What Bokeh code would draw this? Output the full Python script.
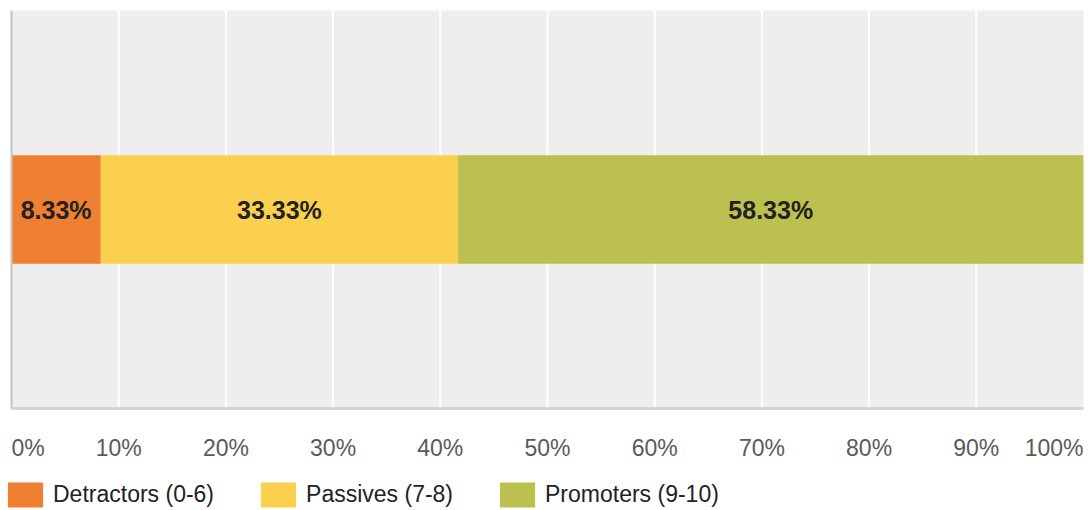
from bokeh.plotting import figure
from bokeh.models import Range1d, Legend, LegendItem, ColumnDataSource
from bokeh.core.properties import value
from bokeh.embed import file_html
from bokeh.resources import INLINE

categories = ["Detractors (0-6)", "Passives (7-8)", "Promoters (9-10)"]
values = [8.33, 33.33, 58.33]
colors = ["#ef7f31", "#fbd04f", "#bcc04f"]
tick_values = [0, 10, 20, 30, 40, 50, 60, 70, 80, 90, 100]
tick_labels = ["0%", "10%", "20%", "30%", "40%", "50%", "60%", "70%", "80%", "90%", "100%"]

FONT = "Liberation Sans"
W, H = 1088, 510
# chart area in screen pixels (left, right, top, bottom)
AL, AR, AT, AB = 11, 1083, 10, 408
xs = (AR - AL) / 100.0
ys = (AB - AT) / 1.0

p = figure(width=W, height=H, output_backend="svg", toolbar_location=None,
           x_range=Range1d(-AL / xs, 100 + (W - AR) / xs),
           y_range=Range1d(-(H - AB) / ys, 1 + AT / ys),
           min_border=0, min_border_left=0, min_border_right=0,
           min_border_top=0, min_border_bottom=0)
p.background_fill_color = "white"
p.border_fill_color = "white"
p.outline_line_color = None
p.xaxis.visible = False
p.yaxis.visible = False
p.xgrid.visible = False
p.ygrid.visible = False

# chart area background and grid
p.quad(left=[tick_values[0]], right=[tick_values[-1]], bottom=[0], top=[1],
       fill_color="#eeeeee", line_color=None)
inner = tick_values[1:-1]
p.segment(x0=inner, y0=[0] * len(inner), x1=inner, y1=[1] * len(inner),
          line_color="white", line_width=2)

lefts, rights, centers = [], [], []
acc = 0.0
for v in values:
    lefts.append(acc)
    rights.append(acc + v)
    centers.append(acc + v / 2)
    acc += v

src = ColumnDataSource(dict(left=lefts, right=rights, center=centers, y=[0.5] * len(values),
                            color=colors, label=["%.2f%%" % v for v in values], name=categories))

renderers = []
for i in range(len(values)):
    r = p.hbar(y=0.5, left=lefts[i], right=rights[i], height=0.272, color=colors[i], line_color=None)
    renderers.append(r)

p.text(x="center", y="y", text="label", source=src, text_align="center", text_baseline="middle",
       text_font=value(FONT), text_font_style="bold", text_font_size="25px", text_color="#222222")

# borders (left and bottom)
p.segment(x0=[0], y0=[0], x1=[0], y1=[1], line_color="#c4c4c4", line_width=2)
p.segment(x0=[0], y0=[0], x1=[100], y1=[0], line_color="#d4d4d4", line_width=3)

# tick labels
aligns = ["left"] + ["center"] * (len(tick_values) - 2) + ["right"]
tsrc = ColumnDataSource(dict(x=tick_values, y=[-39 / ys] * len(tick_values),
                             text=tick_labels, align=aligns))
p.text(x="x", y="y", text="text", text_align="align", source=tsrc, text_baseline="middle",
       text_font=value(FONT), text_font_size="23px", text_color="#5a5a5a")

legend = Legend(items=[LegendItem(label=categories[i], renderers=[renderers[i]]) for i in range(3)],
                orientation="horizontal", location=(3, 0),
                glyph_width=44, glyph_height=31, label_standoff=6, spacing=42,
                padding=0, margin=0, border_line_color=None, background_fill_alpha=0,
                label_text_font=FONT, label_text_font_size="23px", label_text_color="#222222",
                label_height=31)
p.add_layout(legend)

open("out.html", "w").write(file_html(p, INLINE))
